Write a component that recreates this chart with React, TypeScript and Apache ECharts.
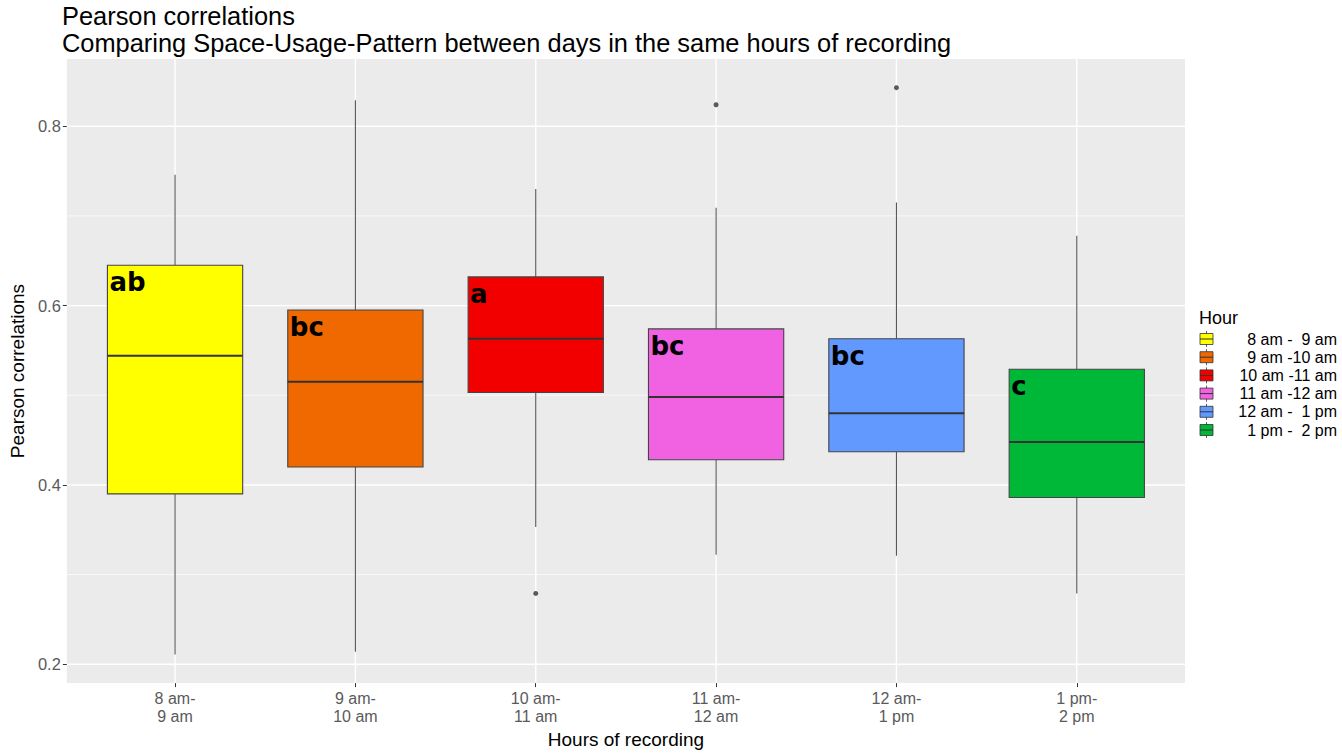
import React, { useEffect, useRef } from 'react';
import * as echarts from 'echarts';

const categories = ['8 am-\n9 am', '9 am-\n10 am', '10 am-\n11 am', '11 am-\n12 am', '12 am-\n1 pm', '1 pm-\n2 pm'];
const legendLabels = ['8 am -  9 am', '9 am -10 am', '10 am -11 am', '11 am -12 am', '12 am -  1 pm', '1 pm -  2 pm'];
const colors = ['#FFFF00', '#F06800', '#F20000', '#F062E2', '#6199FF', '#00B838'];
const whiskerLow = [0.211, 0.214, 0.353, 0.322, 0.321, 0.279];
const q1 = [0.390, 0.420, 0.503, 0.428, 0.437, 0.386];
const median = [0.544, 0.515, 0.563, 0.498, 0.480, 0.448];
const q3 = [0.645, 0.595, 0.632, 0.574, 0.563, 0.529];
const whiskerHigh = [0.746, 0.829, 0.730, 0.709, 0.715, 0.678];
const outliers = [[2, 0.279], [3, 0.824], [4, 0.843]];
const letters = ['ab', 'bc', 'a', 'bc', 'bc', 'c'];
const yMajor = [0.2, 0.4, 0.6, 0.8];
const yMinor = [0.3, 0.5, 0.7];
const xTicks = [0, 1, 2, 3, 4, 5];

const FONT = '"Liberation Sans", Arial, sans-serif';

export default function App() {
  const ref = useRef<HTMLDivElement>(null);
  useEffect(() => {
    if (!ref.current) return;
    const chart = echarts.init(ref.current, null, { renderer: 'svg' });
    const boxData = categories.map((_, i) => [i, whiskerLow[i], q1[i], median[i], q3[i], whiskerHigh[i]]);

    const hLine = (w: number) => (params: any, api: any) => {
      const cs = params.coordSys;
      const y = api.coord([0, api.value(1)])[1];
      return {
        type: 'line', silent: true,
        shape: { x1: cs.x, y1: y, x2: cs.x + cs.width, y2: y },
        style: { stroke: '#FFFFFF', lineWidth: w },
      };
    };
    const vLine = (params: any, api: any) => {
      const cs = params.coordSys;
      const x = api.coord([api.value(0), 0.5])[0];
      return {
        type: 'line', silent: true,
        shape: { x1: x, y1: cs.y, x2: x, y2: cs.y + cs.height },
        style: { stroke: '#FFFFFF', lineWidth: 1.4 },
      };
    };

    const legendGraphics: any[] = [];
    legendGraphics.push({
      type: 'text', left: 1199, top: 309,
      style: { text: 'Hour', fontSize: 18, fontFamily: FONT, fill: '#000' },
    });
    legendLabels.forEach((lab, i) => {
      const cy = 339 + i * 18.2;
      legendGraphics.push({
        type: 'group',
        children: [
          { type: 'line', shape: { x1: 1206.5, y1: cy - 8, x2: 1206.5, y2: cy + 8 }, style: { stroke: '#333', lineWidth: 0.8 } },
          { type: 'rect', shape: { x: 1200, y: cy - 5.5, width: 13, height: 11 }, style: { fill: colors[i], stroke: '#333', lineWidth: 0.8 } },
          { type: 'line', shape: { x1: 1200, y1: cy, x2: 1213, y2: cy }, style: { stroke: '#333', lineWidth: 1 } },
          {
            type: 'text', x: 1337, y: cy,
            style: { text: lab.replace(/ /g, '\u00a0'), fontSize: 16, fontFamily: FONT, fill: '#000', align: 'right', verticalAlign: 'middle' },
          },
        ],
      });
    });

    chart.setOption({
      animation: false,
      backgroundColor: '#FFFFFF',
      title: {
        text: 'Pearson correlations\nComparing Space-Usage-Pattern between days in the same hours of recording',
        left: 62, top: 2, padding: 0,
        textStyle: { fontSize: 25.4, fontWeight: 'normal', lineHeight: 27, fontFamily: FONT, color: '#000' },
      },
      grid: { left: 59, right: 157, top: 59, bottom: 60, show: true, backgroundColor: '#EBEBEB', borderWidth: 0 },
      xAxis: {
        type: 'value', min: -0.6, max: 5.6,
        axisLine: { show: false, onZero: false },
        splitLine: { show: false },
        axisTick: { show: true, customValues: xTicks, length: 4, lineStyle: { color: '#333' } },
        axisLabel: {
          customValues: xTicks,
          formatter: (v: number) => categories[Math.round(v)] ?? '',
          color: '#5A5A5A', fontSize: 16, lineHeight: 18, fontFamily: FONT, margin: 6,
        },
        name: 'Hours of recording', nameLocation: 'middle', nameGap: 42,
        nameTextStyle: { fontSize: 19, color: '#000', fontFamily: FONT },
      },
      yAxis: {
        type: 'value', min: 0.179, max: 0.875,
        axisLine: { show: false, onZero: false },
        splitLine: { show: false },
        axisTick: { show: true, customValues: yMajor, length: 4, lineStyle: { color: '#333' } },
        axisLabel: {
          customValues: yMajor,
          formatter: (v: number) => v.toFixed(1),
          color: '#5A5A5A', fontSize: 16.5, fontFamily: FONT, margin: 6,
        },
        name: 'Pearson correlations', nameLocation: 'middle', nameGap: 29,
        nameTextStyle: { fontSize: 19, color: '#000', fontFamily: FONT },
      },
      graphic: legendGraphics,
      series: [
        { type: 'custom', silent: true, data: yMinor.map((v) => [0, v]), renderItem: hLine(0.7), z: 0 },
        { type: 'custom', silent: true, data: yMajor.map((v) => [0, v]), renderItem: hLine(1.4), z: 0 },
        { type: 'custom', silent: true, data: xTicks.map((v) => [v, 0.5]), renderItem: vLine, z: 0 },
        {
          type: 'custom', z: 2,
          data: boxData,
          encode: { x: 0, y: [1, 2, 3, 4, 5] },
          renderItem: (params: any, api: any) => {
            const i = api.value(0);
            const cx = api.coord([i, 0.5])[0];
            const left = api.coord([i - 0.375, 0.5])[0];
            const right = api.coord([i + 0.375, 0.5])[0];
            const yLo = api.coord([i, api.value(1)])[1];
            const yQ1 = api.coord([i, api.value(2)])[1];
            const yMed = api.coord([i, api.value(3)])[1];
            const yQ3 = api.coord([i, api.value(4)])[1];
            const yHi = api.coord([i, api.value(5)])[1];
            const idx = params.dataIndex;
            return {
              type: 'group',
              children: [
                { type: 'line', shape: { x1: cx, y1: yHi, x2: cx, y2: yQ3 }, style: { stroke: '#555', lineWidth: 1.1 } },
                { type: 'line', shape: { x1: cx, y1: yQ1, x2: cx, y2: yLo }, style: { stroke: '#555', lineWidth: 1.1 } },
                { type: 'rect', shape: { x: left, y: yQ3, width: right - left, height: yQ1 - yQ3 }, style: { fill: colors[idx], stroke: '#444', lineWidth: 1.1 } },
                { type: 'line', shape: { x1: left, y1: yMed, x2: right, y2: yMed }, style: { stroke: '#333', lineWidth: 2 } },
                {
                  type: 'text', x: left + 2, y: yQ3 + 4,
                  style: { text: letters[idx], fill: '#000', fontSize: 26, fontWeight: 'bold', fontFamily: '"DejaVu Sans", sans-serif', align: 'left', verticalAlign: 'top' },
                },
              ],
            };
          },
        },
        {
          type: 'scatter', z: 3, data: outliers, symbolSize: 5,
          itemStyle: { color: '#333' },
        },
      ],
    });
    return () => chart.dispose();
  }, []);
  return <div ref={ref} style={{ position: 'fixed', left: 0, top: 0, width: 1342, height: 754, background: '#fff' }} />;
}
